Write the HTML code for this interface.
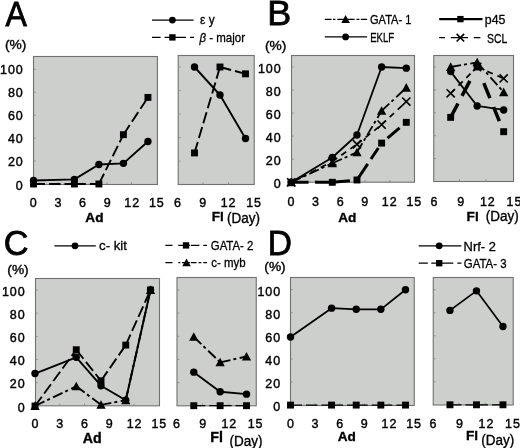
<!DOCTYPE html>
<html lang="en">
<head>
<meta charset="utf-8">
<title>Figure</title>
<style>
html,body{margin:0;padding:0;background:#fff;}
body{width:520px;height:448px;overflow:hidden;}
svg{display:block;font-family:"Liberation Sans",sans-serif;filter:blur(0.4px);}
svg text{fill:#000;}
</style>
</head>
<body>
<svg width="520" height="448" viewBox="0 0 520 448">
<rect width="520" height="448" fill="#fff"/>
<g id="panel-A">
<rect x="33.5" y="56.5" width="123.90" height="128.00" fill="#cdcfcc" stroke="#707070" stroke-width="1.1"/>
<path d="M33.5,161.06h2.2" stroke="#8c8c8c" stroke-width="1" fill="none"/>
<path d="M33.5,138.12h2.2" stroke="#8c8c8c" stroke-width="1" fill="none"/>
<path d="M33.5,115.18h2.2" stroke="#8c8c8c" stroke-width="1" fill="none"/>
<path d="M33.5,92.24h2.2" stroke="#8c8c8c" stroke-width="1" fill="none"/>
<path d="M33.5,69.30h2.2" stroke="#8c8c8c" stroke-width="1" fill="none"/>
<path d="M58.02,184.5v-2.2" stroke="#8c8c8c" stroke-width="1" fill="none"/>
<path d="M82.54,184.5v-2.2" stroke="#8c8c8c" stroke-width="1" fill="none"/>
<path d="M107.06,184.5v-2.2" stroke="#8c8c8c" stroke-width="1" fill="none"/>
<path d="M131.58,184.5v-2.2" stroke="#8c8c8c" stroke-width="1" fill="none"/>
<text x="33.70" y="206.90" font-size="12.5" text-anchor="middle" letter-spacing="0.9" stroke="#000" stroke-width="0.4">0</text>
<text x="58.32" y="206.90" font-size="12.5" text-anchor="middle" letter-spacing="0.9" stroke="#000" stroke-width="0.4">3</text>
<text x="82.94" y="206.90" font-size="12.5" text-anchor="middle" letter-spacing="0.9" stroke="#000" stroke-width="0.4">6</text>
<text x="107.56" y="206.90" font-size="12.5" text-anchor="middle" letter-spacing="0.9" stroke="#000" stroke-width="0.4">9</text>
<text x="132.18" y="206.90" font-size="12.5" text-anchor="middle" letter-spacing="0.9" stroke="#000" stroke-width="0.4">12</text>
<text x="156.80" y="206.90" font-size="12.5" text-anchor="middle" letter-spacing="0.9" stroke="#000" stroke-width="0.4">15</text>
<rect x="178.2" y="55.5" width="76.00" height="129.00" fill="#cdcfcc" stroke="#707070" stroke-width="1.1"/>
<path d="M178.2,161.16h2.2" stroke="#8c8c8c" stroke-width="1" fill="none"/>
<path d="M178.2,137.62h2.2" stroke="#8c8c8c" stroke-width="1" fill="none"/>
<path d="M178.2,114.08h2.2" stroke="#8c8c8c" stroke-width="1" fill="none"/>
<path d="M178.2,90.54h2.2" stroke="#8c8c8c" stroke-width="1" fill="none"/>
<path d="M178.2,67.00h2.2" stroke="#8c8c8c" stroke-width="1" fill="none"/>
<path d="M203.00,184.5v-2.2" stroke="#8c8c8c" stroke-width="1" fill="none"/>
<path d="M228.50,184.5v-2.2" stroke="#8c8c8c" stroke-width="1" fill="none"/>
<text x="177.90" y="206.90" font-size="12.5" text-anchor="middle" letter-spacing="0.9" stroke="#000" stroke-width="0.4">6</text>
<text x="203.27" y="206.90" font-size="12.5" text-anchor="middle" letter-spacing="0.9" stroke="#000" stroke-width="0.4">9</text>
<text x="228.63" y="206.90" font-size="12.5" text-anchor="middle" letter-spacing="0.9" stroke="#000" stroke-width="0.4">12</text>
<text x="254.00" y="206.90" font-size="12.5" text-anchor="middle" letter-spacing="0.9" stroke="#000" stroke-width="0.4">15</text>
<text x="23.60" y="189.50" font-size="12.5" text-anchor="end" letter-spacing="0.9" stroke="#000" stroke-width="0.4">0</text>
<text x="23.60" y="166.40" font-size="12.5" text-anchor="end" letter-spacing="0.9" stroke="#000" stroke-width="0.4">20</text>
<text x="23.60" y="143.30" font-size="12.5" text-anchor="end" letter-spacing="0.9" stroke="#000" stroke-width="0.4">40</text>
<text x="23.60" y="120.20" font-size="12.5" text-anchor="end" letter-spacing="0.9" stroke="#000" stroke-width="0.4">60</text>
<text x="23.60" y="97.10" font-size="12.5" text-anchor="end" letter-spacing="0.9" stroke="#000" stroke-width="0.4">80</text>
<text x="23.60" y="74.00" font-size="12.5" text-anchor="end" letter-spacing="0.9" stroke="#000" stroke-width="0.4">100</text>
<path d="M33.50,180.56L74.37,179.41L98.89,164.50L123.41,163.35L147.93,141.56" fill="none" stroke="#000" stroke-width="1.9" stroke-linejoin="round"/>
<g fill="#000"><circle cx="33.50" cy="180.56" r="3.70"/><circle cx="74.37" cy="179.41" r="3.70"/><circle cx="98.89" cy="164.50" r="3.70"/><circle cx="123.41" cy="163.35" r="3.70"/><circle cx="147.93" cy="141.56" r="3.70"/></g>
<path d="M194.50,67.00L220.00,95.01L245.50,138.44" fill="none" stroke="#000" stroke-width="1.9" stroke-linejoin="round"/>
<g fill="#000"><circle cx="194.50" cy="67.00" r="3.70"/><circle cx="220.00" cy="95.01" r="3.70"/><circle cx="245.50" cy="138.44" r="3.70"/></g>
<path d="M33.50,184.00L74.37,184.00" fill="none" stroke="#000" stroke-width="1.9" stroke-dasharray="11.5 4"/><path d="M74.37,184.00L98.89,184.00" fill="none" stroke="#000" stroke-width="1.9" stroke-dasharray="11.5 4"/><path d="M98.89,184.00L123.41,134.68" fill="none" stroke="#000" stroke-width="1.9" stroke-dasharray="11.5 4"/><path d="M123.41,134.68L147.93,97.40" fill="none" stroke="#000" stroke-width="1.9" stroke-dasharray="11.5 4"/>
<g fill="#000"><rect x="30.05" y="180.55" width="6.90" height="6.90"/><rect x="70.92" y="180.55" width="6.90" height="6.90"/><rect x="95.44" y="180.55" width="6.90" height="6.90"/><rect x="119.96" y="131.23" width="6.90" height="6.90"/><rect x="144.48" y="93.95" width="6.90" height="6.90"/></g>
<path d="M194.50,152.92L220.00,67.00" fill="none" stroke="#000" stroke-width="1.9" stroke-dasharray="11.5 4"/><path d="M220.00,67.00L245.50,73.83" fill="none" stroke="#000" stroke-width="1.9" stroke-dasharray="11.5 4"/>
<g fill="#000"><rect x="191.05" y="149.47" width="6.90" height="6.90"/><rect x="216.55" y="63.55" width="6.90" height="6.90"/><rect x="242.05" y="70.38" width="6.90" height="6.90"/></g>
<path d="M152,20.1H193.6" fill="none" stroke="#000" stroke-width="1.3"/>
<g fill="#000"><circle cx="172.40" cy="20.10" r="3.40"/></g>
<text x="200.10" y="24.40" font-size="12.6" stroke="#000" stroke-width="0.3" textLength="14.6" lengthAdjust="spacingAndGlyphs">ε y</text>
<path d="M152.00,37.4H160.60M164.60,37.4H186.00M190.00,37.4H194.00" fill="none" stroke="#000" stroke-width="1.3"/>
<g fill="#000"><rect x="169.23" y="34.23" width="6.35" height="6.35"/></g>
<text x="199.50" y="42.00" font-size="12.6" stroke="#000" stroke-width="0.3" textLength="45.5" lengthAdjust="spacingAndGlyphs"><tspan font-style="italic">β</tspan> - major</text>
<text x="5.50" y="26.40" font-size="35.4" stroke="#000" stroke-width="0.8" textLength="21.4" lengthAdjust="spacingAndGlyphs">A</text>
<text x="5.00" y="49.30" font-size="13.6" stroke="#000" stroke-width="0.4" textLength="21.4" lengthAdjust="spacingAndGlyphs">(%)</text>
<text x="94.40" y="222.00" font-size="13.6" text-anchor="middle" font-weight="bold" stroke="#000" stroke-width="0.35">Ad</text>
<text x="211.80" y="220.70" font-size="13.6" font-weight="bold" stroke="#000" stroke-width="0.35">Fl</text>
<text x="227.00" y="222.60" font-size="13.8" stroke="#000" stroke-width="0.35" textLength="33" lengthAdjust="spacingAndGlyphs">(Day)</text>
</g>
<g id="panel-B">
<rect x="291.5" y="55.5" width="123.00" height="126.70" fill="#cdcfcc" stroke="#707070" stroke-width="1.1"/>
<path d="M291.5,159.24h2.2" stroke="#8c8c8c" stroke-width="1" fill="none"/>
<path d="M291.5,136.18h2.2" stroke="#8c8c8c" stroke-width="1" fill="none"/>
<path d="M291.5,113.12h2.2" stroke="#8c8c8c" stroke-width="1" fill="none"/>
<path d="M291.5,90.06h2.2" stroke="#8c8c8c" stroke-width="1" fill="none"/>
<path d="M291.5,67.00h2.2" stroke="#8c8c8c" stroke-width="1" fill="none"/>
<path d="M315.86,182.2v-2.2" stroke="#8c8c8c" stroke-width="1" fill="none"/>
<path d="M340.52,182.2v-2.2" stroke="#8c8c8c" stroke-width="1" fill="none"/>
<path d="M365.18,182.2v-2.2" stroke="#8c8c8c" stroke-width="1" fill="none"/>
<path d="M389.84,182.2v-2.2" stroke="#8c8c8c" stroke-width="1" fill="none"/>
<text x="291.40" y="205.60" font-size="12.5" text-anchor="middle" letter-spacing="0.9" stroke="#000" stroke-width="0.4">0</text>
<text x="315.98" y="205.60" font-size="12.5" text-anchor="middle" letter-spacing="0.9" stroke="#000" stroke-width="0.4">3</text>
<text x="340.56" y="205.60" font-size="12.5" text-anchor="middle" letter-spacing="0.9" stroke="#000" stroke-width="0.4">6</text>
<text x="365.14" y="205.60" font-size="12.5" text-anchor="middle" letter-spacing="0.9" stroke="#000" stroke-width="0.4">9</text>
<text x="389.72" y="205.60" font-size="12.5" text-anchor="middle" letter-spacing="0.9" stroke="#000" stroke-width="0.4">12</text>
<text x="414.30" y="205.60" font-size="12.5" text-anchor="middle" letter-spacing="0.9" stroke="#000" stroke-width="0.4">15</text>
<rect x="433.75" y="55.5" width="79.75" height="126.00" fill="#cdcfcc" stroke="#707070" stroke-width="1.1"/>
<path d="M433.75,158.60h2.2" stroke="#8c8c8c" stroke-width="1" fill="none"/>
<path d="M433.75,135.70h2.2" stroke="#8c8c8c" stroke-width="1" fill="none"/>
<path d="M433.75,112.80h2.2" stroke="#8c8c8c" stroke-width="1" fill="none"/>
<path d="M433.75,89.90h2.2" stroke="#8c8c8c" stroke-width="1" fill="none"/>
<path d="M433.75,67.00h2.2" stroke="#8c8c8c" stroke-width="1" fill="none"/>
<path d="M459.50,181.5v-2.2" stroke="#8c8c8c" stroke-width="1" fill="none"/>
<path d="M486.00,181.5v-2.2" stroke="#8c8c8c" stroke-width="1" fill="none"/>
<text x="434.50" y="205.60" font-size="12.5" text-anchor="middle" letter-spacing="0.9" stroke="#000" stroke-width="0.4">6</text>
<text x="461.13" y="205.60" font-size="12.5" text-anchor="middle" letter-spacing="0.9" stroke="#000" stroke-width="0.4">9</text>
<text x="487.77" y="205.60" font-size="12.5" text-anchor="middle" letter-spacing="0.9" stroke="#000" stroke-width="0.4">12</text>
<text x="514.40" y="205.60" font-size="12.5" text-anchor="middle" letter-spacing="0.9" stroke="#000" stroke-width="0.4">15</text>
<text x="281.50" y="187.50" font-size="12.5" text-anchor="end" letter-spacing="0.9" stroke="#000" stroke-width="0.4">0</text>
<text x="281.50" y="164.54" font-size="12.5" text-anchor="end" letter-spacing="0.9" stroke="#000" stroke-width="0.4">20</text>
<text x="281.50" y="141.58" font-size="12.5" text-anchor="end" letter-spacing="0.9" stroke="#000" stroke-width="0.4">40</text>
<text x="281.50" y="118.62" font-size="12.5" text-anchor="end" letter-spacing="0.9" stroke="#000" stroke-width="0.4">60</text>
<text x="281.50" y="95.66" font-size="12.5" text-anchor="end" letter-spacing="0.9" stroke="#000" stroke-width="0.4">80</text>
<text x="281.50" y="72.70" font-size="12.5" text-anchor="end" letter-spacing="0.9" stroke="#000" stroke-width="0.4">100</text>
<path d="M291.20,182.30L332.30,157.51L356.96,135.03L381.62,67.00L406.28,68.15" fill="none" stroke="#000" stroke-width="1.8" stroke-linejoin="round"/>
<g fill="#000"><circle cx="291.20" cy="182.30" r="3.70"/><circle cx="332.30" cy="157.51" r="3.70"/><circle cx="356.96" cy="135.03" r="3.70"/><circle cx="381.62" cy="67.00" r="3.70"/><circle cx="406.28" cy="68.15" r="3.70"/></g>
<path d="M450.67,71.58L477.17,105.93L503.67,109.94" fill="none" stroke="#000" stroke-width="1.8" stroke-linejoin="round"/>
<g fill="#000"><circle cx="450.67" cy="71.58" r="3.70"/><circle cx="477.17" cy="105.93" r="3.70"/><circle cx="503.67" cy="109.94" r="3.70"/></g>
<path d="M291.20,182.30L332.30,161.55" fill="none" stroke="#000" stroke-width="1.7" stroke-dasharray="6 5"/><path d="M332.30,161.55L356.96,144.25" fill="none" stroke="#000" stroke-width="1.7" stroke-dasharray="6 5"/><path d="M356.96,144.25L381.62,124.65" fill="none" stroke="#000" stroke-width="1.7" stroke-dasharray="6 5"/><path d="M381.62,124.65L406.28,101.59" fill="none" stroke="#000" stroke-width="1.7" stroke-dasharray="6 5"/>
<g fill="#000"><path d="M287.10,178.20L295.30,186.40M287.10,186.40L295.30,178.20" fill="none" stroke="#000" stroke-width="1.6"/><path d="M328.20,157.45L336.40,165.65M328.20,165.65L336.40,157.45" fill="none" stroke="#000" stroke-width="1.6"/><path d="M352.86,140.15L361.06,148.35M352.86,148.35L361.06,140.15" fill="none" stroke="#000" stroke-width="1.6"/><path d="M377.52,120.55L385.72,128.75M377.52,128.75L385.72,120.55" fill="none" stroke="#000" stroke-width="1.6"/><path d="M402.18,97.49L410.38,105.69M402.18,105.69L410.38,97.49" fill="none" stroke="#000" stroke-width="1.6"/></g>
<path d="M450.67,93.33L477.17,67.00" fill="none" stroke="#000" stroke-width="1.7" stroke-dasharray="6 5"/><path d="M477.17,67.00L503.67,78.45" fill="none" stroke="#000" stroke-width="1.7" stroke-dasharray="6 5"/>
<g fill="#000"><path d="M446.57,89.23L454.77,97.43M446.57,97.43L454.77,89.23" fill="none" stroke="#000" stroke-width="1.6"/><path d="M473.07,62.90L481.27,71.10M473.07,71.10L481.27,62.90" fill="none" stroke="#000" stroke-width="1.6"/><path d="M499.57,74.35L507.77,82.55M499.57,82.55L507.77,74.35" fill="none" stroke="#000" stroke-width="1.6"/></g>
<path d="M291.20,182.30L332.30,163.28" fill="none" stroke="#000" stroke-width="1.8" stroke-dasharray="10.5 3 3 3.5"/><path d="M332.30,163.28L356.96,152.32" fill="none" stroke="#000" stroke-width="1.8" stroke-dasharray="10.5 3 3 3.5"/><path d="M356.96,152.32L381.62,110.81" fill="none" stroke="#000" stroke-width="1.8" stroke-dasharray="10.5 3 3 3.5"/><path d="M381.62,110.81L406.28,87.75" fill="none" stroke="#000" stroke-width="1.8" stroke-dasharray="10.5 3 3 3.5"/>
<g fill="#000"><polygon points="291.20,177.65 295.85,186.25 286.55,186.25"/><polygon points="332.30,158.63 336.95,167.23 327.65,167.23"/><polygon points="356.96,147.67 361.61,156.27 352.31,156.27"/><polygon points="381.62,106.16 386.27,114.77 376.97,114.77"/><polygon points="406.28,83.10 410.93,91.71 401.63,91.71"/></g>
<path d="M450.67,67.00L477.17,62.42" fill="none" stroke="#000" stroke-width="1.8" stroke-dasharray="10.5 3 3 3.5"/><path d="M477.17,62.42L503.67,92.19" fill="none" stroke="#000" stroke-width="1.8" stroke-dasharray="10.5 3 3 3.5"/>
<g fill="#000"><polygon points="450.67,62.35 455.32,70.95 446.02,70.95"/><polygon points="477.17,57.77 481.82,66.37 472.52,66.37"/><polygon points="503.67,87.54 508.32,96.14 499.02,96.14"/></g>
<path d="M291.20,182.30L332.30,182.30" fill="none" stroke="#000" stroke-width="3.0" stroke-dasharray="17.4 6.5 100"/><path d="M332.30,182.30L356.96,179.99" fill="none" stroke="#000" stroke-width="3.0" stroke-dasharray="17.7 100"/><path d="M356.96,179.99L381.62,143.10" fill="none" stroke="#000" stroke-width="3.0" stroke-dasharray="19.4 5.8 13.3 100"/><path d="M381.62,143.10L406.28,122.34" fill="none" stroke="#000" stroke-width="3.0" stroke-dasharray="0 7.7 15.8 100"/>
<g fill="#000"><rect x="287.75" y="178.85" width="6.90" height="6.90"/><rect x="328.85" y="178.85" width="6.90" height="6.90"/><rect x="353.51" y="176.54" width="6.90" height="6.90"/><rect x="378.17" y="139.65" width="6.90" height="6.90"/><rect x="402.83" y="118.89" width="6.90" height="6.90"/></g>
<path d="M450.67,117.38L477.17,67.00" fill="none" stroke="#000" stroke-width="3.5" stroke-dasharray="15.7 8.6 17 100"/><path d="M477.17,67.00L503.67,131.69" fill="none" stroke="#000" stroke-width="3.5" stroke-dasharray="0 17.5 16.2 9.6 15.2 100"/>
<g fill="#000"><rect x="447.22" y="113.93" width="6.90" height="6.90"/><rect x="473.72" y="63.55" width="6.90" height="6.90"/><rect x="500.22" y="128.24" width="6.90" height="6.90"/></g>
<path d="M324.80,19.4H331.50M333.00,19.4H335.40M337.30,19.4H350.00M350.00,19.4H354.60M356.50,19.4H359.40M360.80,19.4H367.10" fill="none" stroke="#000" stroke-width="1.3"/>
<g fill="#000"><polygon points="345.60,15.12 349.88,23.04 341.32,23.04"/></g>
<text x="370.00" y="23.80" font-size="12.6" stroke="#000" stroke-width="0.3" textLength="41.3" lengthAdjust="spacingAndGlyphs">GATA- 1</text>
<path d="M324.8,36.9H367.1" fill="none" stroke="#000" stroke-width="1.3"/>
<g fill="#000"><circle cx="345.60" cy="36.90" r="3.40"/></g>
<text x="370.20" y="41.60" font-size="12.6" stroke="#000" stroke-width="0.3" textLength="24" lengthAdjust="spacingAndGlyphs">EKLF</text>
<path d="M439.2,19.1H482.5" fill="none" stroke="#000" stroke-width="2.2"/>
<g fill="#000"><rect x="457.23" y="15.93" width="6.35" height="6.35"/></g>
<text x="484.80" y="24.10" font-size="12.6" stroke="#000" stroke-width="0.3" textLength="20.6" lengthAdjust="spacingAndGlyphs">p45</text>
<path d="M439.20,37.7H445.00M450.80,37.7H468.00M473.80,37.7H480.40" fill="none" stroke="#000" stroke-width="1.3"/>
<g fill="#000"><path d="M456.63,33.93L464.17,41.47M456.63,41.47L464.17,33.93" fill="none" stroke="#000" stroke-width="1.6"/></g>
<text x="487.00" y="42.70" font-size="12.6" stroke="#000" stroke-width="0.3" textLength="20.2" lengthAdjust="spacingAndGlyphs">SCL</text>
<text x="267.30" y="25.30" font-size="35.4" stroke="#000" stroke-width="0.8" textLength="24" lengthAdjust="spacingAndGlyphs">B</text>
<text x="265.00" y="49.90" font-size="13.6" stroke="#000" stroke-width="0.4" textLength="21.4" lengthAdjust="spacingAndGlyphs">(%)</text>
<text x="347.30" y="221.90" font-size="13.6" text-anchor="middle" font-weight="bold" stroke="#000" stroke-width="0.35">Ad</text>
<text x="466.60" y="220.80" font-size="13.6" font-weight="bold" stroke="#000" stroke-width="0.35">Fl</text>
<text x="485.80" y="220.80" font-size="13.8" stroke="#000" stroke-width="0.35" textLength="33" lengthAdjust="spacingAndGlyphs">(Day)</text>
</g>
<g id="panel-C">
<rect x="35.5" y="278.5" width="124.00" height="127.30" fill="#cdcfcc" stroke="#707070" stroke-width="1.1"/>
<path d="M35.5,382.80h2.2" stroke="#8c8c8c" stroke-width="1" fill="none"/>
<path d="M35.5,359.60h2.2" stroke="#8c8c8c" stroke-width="1" fill="none"/>
<path d="M35.5,336.40h2.2" stroke="#8c8c8c" stroke-width="1" fill="none"/>
<path d="M35.5,313.20h2.2" stroke="#8c8c8c" stroke-width="1" fill="none"/>
<path d="M35.5,290.00h2.2" stroke="#8c8c8c" stroke-width="1" fill="none"/>
<path d="M59.75,405.8v-2.2" stroke="#8c8c8c" stroke-width="1" fill="none"/>
<path d="M84.50,405.8v-2.2" stroke="#8c8c8c" stroke-width="1" fill="none"/>
<path d="M109.25,405.8v-2.2" stroke="#8c8c8c" stroke-width="1" fill="none"/>
<path d="M134.00,405.8v-2.2" stroke="#8c8c8c" stroke-width="1" fill="none"/>
<text x="35.40" y="428.00" font-size="12.5" text-anchor="middle" letter-spacing="0.9" stroke="#000" stroke-width="0.4">0</text>
<text x="60.18" y="428.00" font-size="12.5" text-anchor="middle" letter-spacing="0.9" stroke="#000" stroke-width="0.4">3</text>
<text x="84.96" y="428.00" font-size="12.5" text-anchor="middle" letter-spacing="0.9" stroke="#000" stroke-width="0.4">6</text>
<text x="109.74" y="428.00" font-size="12.5" text-anchor="middle" letter-spacing="0.9" stroke="#000" stroke-width="0.4">9</text>
<text x="134.52" y="428.00" font-size="12.5" text-anchor="middle" letter-spacing="0.9" stroke="#000" stroke-width="0.4">12</text>
<text x="159.30" y="428.00" font-size="12.5" text-anchor="middle" letter-spacing="0.9" stroke="#000" stroke-width="0.4">15</text>
<rect x="177" y="277.5" width="79.25" height="128.30" fill="#cdcfcc" stroke="#707070" stroke-width="1.1"/>
<path d="M177,382.56h2.2" stroke="#8c8c8c" stroke-width="1" fill="none"/>
<path d="M177,359.42h2.2" stroke="#8c8c8c" stroke-width="1" fill="none"/>
<path d="M177,336.28h2.2" stroke="#8c8c8c" stroke-width="1" fill="none"/>
<path d="M177,313.14h2.2" stroke="#8c8c8c" stroke-width="1" fill="none"/>
<path d="M177,290.00h2.2" stroke="#8c8c8c" stroke-width="1" fill="none"/>
<path d="M202.57,405.8v-2.2" stroke="#8c8c8c" stroke-width="1" fill="none"/>
<path d="M228.93,405.8v-2.2" stroke="#8c8c8c" stroke-width="1" fill="none"/>
<text x="176.90" y="428.00" font-size="12.5" text-anchor="middle" letter-spacing="0.9" stroke="#000" stroke-width="0.4">6</text>
<text x="203.10" y="428.00" font-size="12.5" text-anchor="middle" letter-spacing="0.9" stroke="#000" stroke-width="0.4">9</text>
<text x="229.30" y="428.00" font-size="12.5" text-anchor="middle" letter-spacing="0.9" stroke="#000" stroke-width="0.4">12</text>
<text x="255.50" y="428.00" font-size="12.5" text-anchor="middle" letter-spacing="0.9" stroke="#000" stroke-width="0.4">15</text>
<text x="25.50" y="411.50" font-size="12.5" text-anchor="end" letter-spacing="0.9" stroke="#000" stroke-width="0.4">0</text>
<text x="25.50" y="388.30" font-size="12.5" text-anchor="end" letter-spacing="0.9" stroke="#000" stroke-width="0.4">20</text>
<text x="25.50" y="365.10" font-size="12.5" text-anchor="end" letter-spacing="0.9" stroke="#000" stroke-width="0.4">40</text>
<text x="25.50" y="341.90" font-size="12.5" text-anchor="end" letter-spacing="0.9" stroke="#000" stroke-width="0.4">60</text>
<text x="25.50" y="318.70" font-size="12.5" text-anchor="end" letter-spacing="0.9" stroke="#000" stroke-width="0.4">80</text>
<text x="25.50" y="295.50" font-size="12.5" text-anchor="end" letter-spacing="0.9" stroke="#000" stroke-width="0.4">100</text>
<path d="M35.00,406.00L76.25,386.28" fill="none" stroke="#000" stroke-width="1.9" stroke-dasharray="10.5 3 3 3.5"/><path d="M76.25,386.28L101.00,404.84" fill="none" stroke="#000" stroke-width="1.9" stroke-dasharray="10.5 3 3 3.5"/><path d="M101.00,404.84L125.75,400.20" fill="none" stroke="#000" stroke-width="1.9" stroke-dasharray="10.5 3 3 3.5"/><path d="M125.75,400.20L150.50,290.00" fill="none" stroke="#000" stroke-width="1.9" stroke-dasharray="10.5 3 3 3.5"/>
<g fill="#000"><polygon points="35.00,401.35 39.65,409.95 30.35,409.95"/><polygon points="76.25,381.63 80.90,390.23 71.60,390.23"/><polygon points="101.00,400.19 105.65,408.79 96.35,408.79"/><polygon points="125.75,395.55 130.40,404.15 121.10,404.15"/><polygon points="150.50,285.35 155.15,293.95 145.85,293.95"/></g>
<path d="M193.78,336.86L220.14,362.31" fill="none" stroke="#000" stroke-width="1.9" stroke-dasharray="10.5 3 3 3.5"/><path d="M220.14,362.31L246.51,356.53" fill="none" stroke="#000" stroke-width="1.9" stroke-dasharray="10.5 3 3 3.5"/>
<g fill="#000"><polygon points="193.78,332.21 198.43,340.81 189.13,340.81"/><polygon points="220.14,357.66 224.79,366.26 215.49,366.26"/><polygon points="246.51,351.88 251.16,360.48 241.86,360.48"/></g>
<path d="M35.00,373.52L76.25,357.28L101.00,385.70L125.75,400.20L150.50,290.00" fill="none" stroke="#000" stroke-width="1.9" stroke-linejoin="round"/>
<g fill="#000"><circle cx="35.00" cy="373.52" r="3.70"/><circle cx="76.25" cy="357.28" r="3.70"/><circle cx="101.00" cy="385.70" r="3.70"/><circle cx="125.75" cy="400.20" r="3.70"/><circle cx="150.50" cy="290.00" r="3.70"/></g>
<path d="M193.78,372.15L220.14,391.82L246.51,394.13" fill="none" stroke="#000" stroke-width="1.9" stroke-linejoin="round"/>
<g fill="#000"><circle cx="193.78" cy="372.15" r="3.70"/><circle cx="220.14" cy="391.82" r="3.70"/><circle cx="246.51" cy="394.13" r="3.70"/></g>
<path d="M35.00,406.00L76.25,349.74" fill="none" stroke="#000" stroke-width="1.9" stroke-dasharray="11.5 4"/><path d="M76.25,349.74L101.00,380.83" fill="none" stroke="#000" stroke-width="1.9" stroke-dasharray="11.5 4"/><path d="M101.00,380.83L125.75,345.10" fill="none" stroke="#000" stroke-width="1.9" stroke-dasharray="11.5 4"/><path d="M125.75,345.10L150.50,290.00" fill="none" stroke="#000" stroke-width="1.9" stroke-dasharray="11.5 4"/>
<g fill="#000"><rect x="31.55" y="402.55" width="6.90" height="6.90"/><rect x="72.80" y="346.29" width="6.90" height="6.90"/><rect x="97.55" y="377.38" width="6.90" height="6.90"/><rect x="122.30" y="341.65" width="6.90" height="6.90"/><rect x="147.05" y="286.55" width="6.90" height="6.90"/></g>
<path d="M193.78,405.70L220.14,405.70" fill="none" stroke="#000" stroke-width="1.3" stroke-dasharray="11.5 4"/><path d="M220.14,405.70L246.51,405.70" fill="none" stroke="#000" stroke-width="1.3" stroke-dasharray="11.5 4"/>
<g fill="#000"><rect x="190.33" y="402.25" width="6.90" height="6.90"/><rect x="216.69" y="402.25" width="6.90" height="6.90"/><rect x="243.06" y="402.25" width="6.90" height="6.90"/></g>
<path d="M54.4,245.8H95.8" fill="none" stroke="#000" stroke-width="1.3"/>
<g fill="#000"><circle cx="75.00" cy="245.80" r="3.40"/></g>
<text x="99.00" y="250.20" font-size="12.6" stroke="#000" stroke-width="0.3" textLength="28" lengthAdjust="spacingAndGlyphs">c- kit</text>
<path d="M165.40,245.4H172.50M178.30,245.4H190.00M190.80,245.4H199.40M203.30,245.4H207.10" fill="none" stroke="#000" stroke-width="1.3"/>
<g fill="#000"><rect x="182.83" y="242.23" width="6.35" height="6.35"/></g>
<text x="210.80" y="250.20" font-size="12.6" stroke="#000" stroke-width="0.3" textLength="42.5" lengthAdjust="spacingAndGlyphs">GATA- 2</text>
<path d="M165.40,262.7H172.50M178.30,262.7H180.30M182.00,262.7H190.00M190.80,262.7H196.50M198.50,262.7H201.30M203.30,262.7H207.10" fill="none" stroke="#000" stroke-width="1.3"/>
<g fill="#000"><polygon points="186.50,258.42 190.78,266.34 182.22,266.34"/></g>
<text x="211.30" y="267.40" font-size="12.6" stroke="#000" stroke-width="0.3" textLength="34.3" lengthAdjust="spacingAndGlyphs">c- myb</text>
<text x="3.70" y="254.70" font-size="35.4" stroke="#000" stroke-width="0.8" textLength="24.8" lengthAdjust="spacingAndGlyphs">C</text>
<text x="7.30" y="274.10" font-size="13.6" stroke="#000" stroke-width="0.4" textLength="21.4" lengthAdjust="spacingAndGlyphs">(%)</text>
<text x="92.30" y="443.00" font-size="14.2" text-anchor="middle" font-weight="bold" stroke="#000" stroke-width="0.35">Ad</text>
<text x="210.30" y="441.50" font-size="14.2" font-weight="bold" stroke="#000" stroke-width="0.35">Fl</text>
<text x="229.50" y="446.00" font-size="13.8" stroke="#000" stroke-width="0.35" textLength="33" lengthAdjust="spacingAndGlyphs">(Day)</text>
</g>
<g id="panel-D">
<rect x="290.5" y="277.5" width="123.75" height="128.00" fill="#cdcfcc" stroke="#707070" stroke-width="1.1"/>
<path d="M290.5,382.02h2.2" stroke="#8c8c8c" stroke-width="1" fill="none"/>
<path d="M290.5,358.94h2.2" stroke="#8c8c8c" stroke-width="1" fill="none"/>
<path d="M290.5,335.86h2.2" stroke="#8c8c8c" stroke-width="1" fill="none"/>
<path d="M290.5,312.78h2.2" stroke="#8c8c8c" stroke-width="1" fill="none"/>
<path d="M290.5,289.70h2.2" stroke="#8c8c8c" stroke-width="1" fill="none"/>
<path d="M315.14,405.5v-2.2" stroke="#8c8c8c" stroke-width="1" fill="none"/>
<path d="M339.78,405.5v-2.2" stroke="#8c8c8c" stroke-width="1" fill="none"/>
<path d="M364.42,405.5v-2.2" stroke="#8c8c8c" stroke-width="1" fill="none"/>
<path d="M389.06,405.5v-2.2" stroke="#8c8c8c" stroke-width="1" fill="none"/>
<text x="290.90" y="428.20" font-size="12.5" text-anchor="middle" letter-spacing="0.9" stroke="#000" stroke-width="0.4">0</text>
<text x="315.53" y="428.20" font-size="12.5" text-anchor="middle" letter-spacing="0.9" stroke="#000" stroke-width="0.4">3</text>
<text x="340.16" y="428.20" font-size="12.5" text-anchor="middle" letter-spacing="0.9" stroke="#000" stroke-width="0.4">6</text>
<text x="364.79" y="428.20" font-size="12.5" text-anchor="middle" letter-spacing="0.9" stroke="#000" stroke-width="0.4">9</text>
<text x="389.42" y="428.20" font-size="12.5" text-anchor="middle" letter-spacing="0.9" stroke="#000" stroke-width="0.4">12</text>
<text x="414.05" y="428.20" font-size="12.5" text-anchor="middle" letter-spacing="0.9" stroke="#000" stroke-width="0.4">15</text>
<rect x="433.25" y="277.5" width="79.95" height="127.50" fill="#cdcfcc" stroke="#707070" stroke-width="1.1"/>
<path d="M433.25,381.78h2.2" stroke="#8c8c8c" stroke-width="1" fill="none"/>
<path d="M433.25,358.76h2.2" stroke="#8c8c8c" stroke-width="1" fill="none"/>
<path d="M433.25,335.74h2.2" stroke="#8c8c8c" stroke-width="1" fill="none"/>
<path d="M433.25,312.72h2.2" stroke="#8c8c8c" stroke-width="1" fill="none"/>
<path d="M433.25,289.70h2.2" stroke="#8c8c8c" stroke-width="1" fill="none"/>
<path d="M458.80,405v-2.2" stroke="#8c8c8c" stroke-width="1" fill="none"/>
<path d="M485.30,405v-2.2" stroke="#8c8c8c" stroke-width="1" fill="none"/>
<text x="433.40" y="428.20" font-size="12.5" text-anchor="middle" letter-spacing="0.9" stroke="#000" stroke-width="0.4">6</text>
<text x="459.90" y="428.20" font-size="12.5" text-anchor="middle" letter-spacing="0.9" stroke="#000" stroke-width="0.4">9</text>
<text x="486.40" y="428.20" font-size="12.5" text-anchor="middle" letter-spacing="0.9" stroke="#000" stroke-width="0.4">12</text>
<text x="512.90" y="428.20" font-size="12.5" text-anchor="middle" letter-spacing="0.9" stroke="#000" stroke-width="0.4">15</text>
<text x="281.00" y="411.20" font-size="12.5" text-anchor="end" letter-spacing="0.9" stroke="#000" stroke-width="0.4">0</text>
<text x="281.00" y="388.16" font-size="12.5" text-anchor="end" letter-spacing="0.9" stroke="#000" stroke-width="0.4">20</text>
<text x="281.00" y="365.12" font-size="12.5" text-anchor="end" letter-spacing="0.9" stroke="#000" stroke-width="0.4">40</text>
<text x="281.00" y="342.08" font-size="12.5" text-anchor="end" letter-spacing="0.9" stroke="#000" stroke-width="0.4">60</text>
<text x="281.00" y="319.04" font-size="12.5" text-anchor="end" letter-spacing="0.9" stroke="#000" stroke-width="0.4">80</text>
<text x="281.00" y="296.00" font-size="12.5" text-anchor="end" letter-spacing="0.9" stroke="#000" stroke-width="0.4">100</text>
<path d="M290.50,405.10L331.57,405.10" fill="none" stroke="#000" stroke-width="1.3" stroke-dasharray="11.5 4"/><path d="M331.57,405.10L356.21,405.10" fill="none" stroke="#000" stroke-width="1.3" stroke-dasharray="11.5 4"/><path d="M356.21,405.10L380.85,405.10" fill="none" stroke="#000" stroke-width="1.3" stroke-dasharray="11.5 4"/><path d="M380.85,405.10L405.49,405.10" fill="none" stroke="#000" stroke-width="1.3" stroke-dasharray="11.5 4"/>
<g fill="#000"><rect x="287.05" y="401.65" width="6.90" height="6.90"/><rect x="328.12" y="401.65" width="6.90" height="6.90"/><rect x="352.76" y="401.65" width="6.90" height="6.90"/><rect x="377.40" y="401.65" width="6.90" height="6.90"/><rect x="402.04" y="401.65" width="6.90" height="6.90"/></g>
<path d="M449.97,404.80L476.47,404.80" fill="none" stroke="#000" stroke-width="1.3" stroke-dasharray="11.5 4"/><path d="M476.47,404.80L502.97,404.80" fill="none" stroke="#000" stroke-width="1.3" stroke-dasharray="11.5 4"/>
<g fill="#000"><rect x="446.52" y="401.35" width="6.90" height="6.90"/><rect x="473.02" y="401.35" width="6.90" height="6.90"/><rect x="499.52" y="401.35" width="6.90" height="6.90"/></g>
<path d="M290.50,337.01L331.57,308.16L356.21,309.32L380.85,309.32L405.49,289.70" fill="none" stroke="#000" stroke-width="1.75" stroke-linejoin="round"/>
<g fill="#000"><circle cx="290.50" cy="337.01" r="3.70"/><circle cx="331.57" cy="308.16" r="3.70"/><circle cx="356.21" cy="309.32" r="3.70"/><circle cx="380.85" cy="309.32" r="3.70"/><circle cx="405.49" cy="289.70" r="3.70"/></g>
<path d="M449.97,310.42L476.47,290.85L502.97,326.53" fill="none" stroke="#000" stroke-width="1.75" stroke-linejoin="round"/>
<g fill="#000"><circle cx="449.97" cy="310.42" r="3.70"/><circle cx="476.47" cy="290.85" r="3.70"/><circle cx="502.97" cy="326.53" r="3.70"/></g>
<path d="M418.7,245.8H461.4" fill="none" stroke="#000" stroke-width="1.3"/>
<g fill="#000"><circle cx="439.20" cy="245.80" r="3.40"/></g>
<text x="463.60" y="250.70" font-size="12.6" stroke="#000" stroke-width="0.3" textLength="32.2" lengthAdjust="spacingAndGlyphs">Nrf- 2</text>
<path d="M418.70,263.2H427.90M431.30,263.2H453.30M457.30,263.2H461.40" fill="none" stroke="#000" stroke-width="1.3"/>
<g fill="#000"><rect x="436.03" y="260.03" width="6.35" height="6.35"/></g>
<text x="463.80" y="268.00" font-size="12.6" stroke="#000" stroke-width="0.3" textLength="42.7" lengthAdjust="spacingAndGlyphs">GATA- 3</text>
<text x="267.80" y="255.30" font-size="35.4" stroke="#000" stroke-width="0.8" textLength="24.2" lengthAdjust="spacingAndGlyphs">D</text>
<text x="264.30" y="270.50" font-size="13.6" stroke="#000" stroke-width="0.4" textLength="21.4" lengthAdjust="spacingAndGlyphs">(%)</text>
<text x="346.80" y="441.00" font-size="13.6" text-anchor="middle" font-weight="bold" stroke="#000" stroke-width="0.35">Ad</text>
<text x="466.00" y="440.00" font-size="13.6" font-weight="bold" stroke="#000" stroke-width="0.35">Fl</text>
<text x="481.20" y="445.30" font-size="13.8" stroke="#000" stroke-width="0.35" textLength="33" lengthAdjust="spacingAndGlyphs">(Day)</text>
</g>
</svg>
</body>
</html>
